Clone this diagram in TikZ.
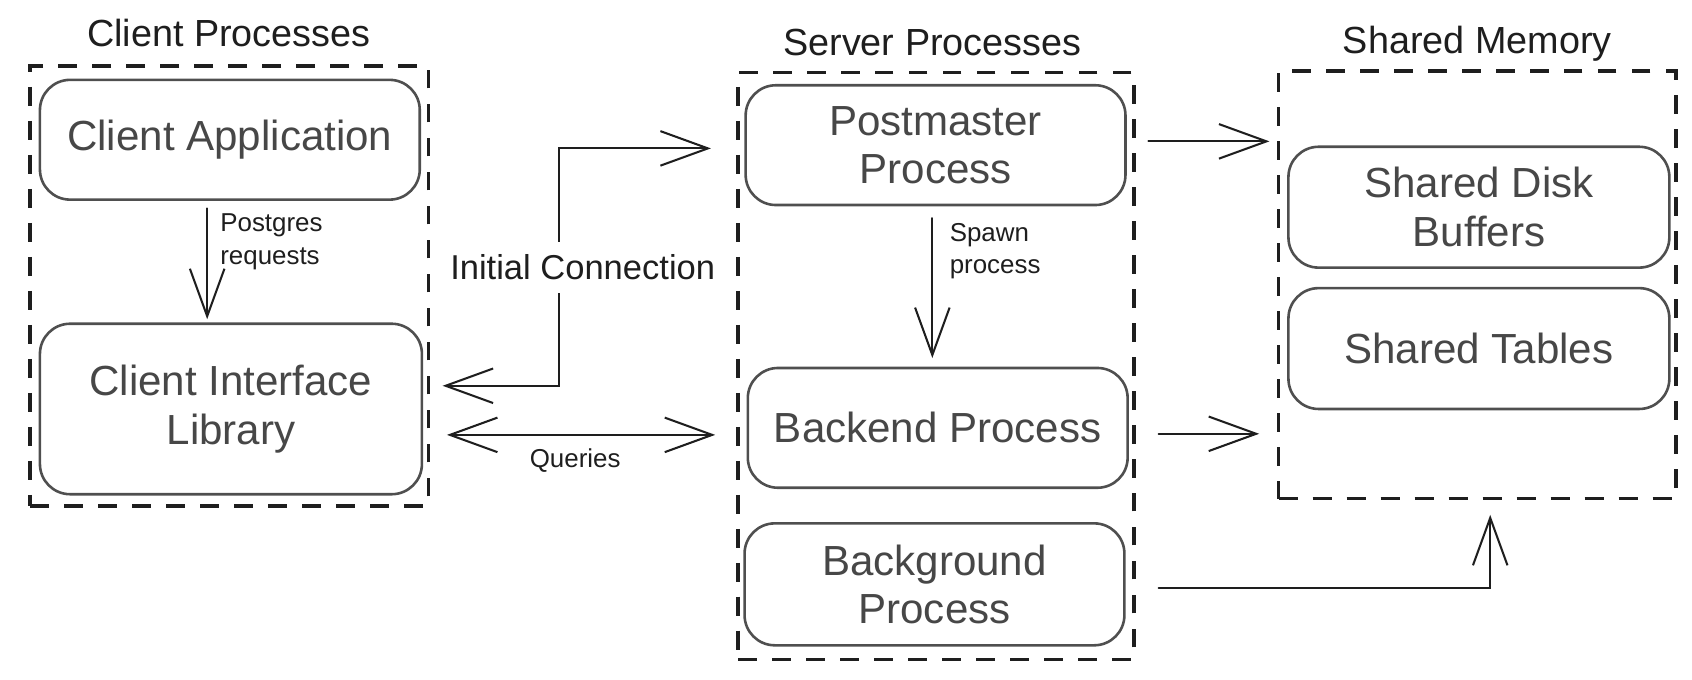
\documentclass[tikz,border=0pt]{standalone}
\RequirePackage{fontspec}
\setmainfont{Liberation Sans}
\RequirePackage{tikz}
\usetikzlibrary{calc}
\usetikzlibrary{arrows.meta}

\definecolor{inkblack}{HTML}{1E1E1E}
\definecolor{boxgray}{HTML}{4F4F4F}
\definecolor{textgray}{HTML}{474747}

\begin{document}
\begin{tikzpicture}[x=1pt,y=-1pt,
    proc/.style={draw=boxgray,line width=2.4pt,rounded corners=28pt,minimum width=352pt,minimum height=111pt,
                 align=center,text=textgray,inner sep=0pt,font=\fontsize{39}{45}\selectfont},
    group/.style={draw=inkblack,line width=3.2pt,dash pattern=on 17.5pt off 14pt,inner sep=0pt},
    title/.style={anchor=base,text=inkblack,font=\fontsize{35}{40}\selectfont},
    note/.style={text=inkblack,align=left,inner sep=0pt,font=\fontsize{24}{30}\selectfont},
    barb/.tip={Straight Barb[length=44pt,width=32pt]},
    conn/.style={draw=inkblack,line width=1.9pt,line cap=round,-barb},
    conn2/.style={conn,barb-barb}]
                    \useasboundingbox (0,0) rectangle (1568,630);

                    \node[title] (ctitle) at (212,43.5) {Client Processes};
                    \node[title] (stitle) at (864,51) {Server Processes};
                    \node[title] (mtitle) at (1369,49.5) {Shared Memory};

                    \node[group,minimum width=369pt,minimum height=408pt] (cgrp) at (212.5,265) {};
                    \node[group,minimum width=367pt,minimum height=544pt] (sgrp) at (867.5,339) {};
                    \node[group,minimum width=368pt,minimum height=396pt] (shm) at (1369,264) {};

                    \node[proc] (ca) at (213,129.5) {Client Application};
                    \node[proc,minimum width=354pt,minimum height=158pt] (cil) at (214,379) {Client Interface\\Library};

                    \node[proc] (pm) at (867,134.5) {Postmaster\\Process};
                    \node[proc] (be) at (869,396.5) {Backend Process};
                    \node[proc,minimum height=113pt] (bg) at (866,541.5) {Background\\Process};

                    \node[proc,minimum width=353pt,minimum height=112pt] (sdb) at (1370.5,192) {Shared Disk\\Buffers};
                    \node[proc,minimum width=353pt,minimum height=112pt] (stb) at (1370.5,323) {Shared Tables};

                    \coordinate (ic) at ([yshift=21.5pt]cil.east);
                    \coordinate (qa) at ([yshift=-24pt]cil.east);
                    \coordinate (pmo) at ([yshift=3.5pt]pm.east);
                    \coordinate (beo) at ([yshift=-5.5pt]be.east);
                    \coordinate (bgo) at ([yshift=-3pt]bg.east);
                    \coordinate (shin) at ([xshift=12pt]shm.south);

                    \draw[conn,shorten <=7pt,shorten >=3pt] ([xshift=-21pt]ca.south) -- ([xshift=-22pt]cil.north);
                    \node[note,anchor=west] (pgl) at (204,224) {Postgres\\requests};

                    \draw[conn2,shorten <=18pt,shorten >=31pt] (ic) -- ++(126,0) |- ([yshift=-3pt]pm.west);
                    \node[fill=white,text=inkblack,inner xsep=2pt,inner ysep=12pt,font=\fontsize{32}{38}\selectfont] (icl) at (540,248) {Initial Connection};

                    \draw[conn2,shorten <=22pt,shorten >=29pt] (qa) -- (qa -| be.west);
                    \node[note] (ql) at (533,427) {Queries};

                    \draw[conn,shorten <=11pt,shorten >=8pt] ([xshift=-3pt]pm.south) -- ([xshift=-5pt]be.north);
                    \node[note,anchor=west] (spl) at (880,233) {Spawn\\process};

                    \draw[conn,shorten <=20pt,shorten >=7pt] (pmo) -- (pmo -| shm.west);
                    \draw[conn,shorten <=27.5pt,shorten >=16.5pt] (beo) -- (beo -| shm.west);
                    \draw[conn,shorten <=30.5pt,shorten >=13.5pt] (bgo) -| (shin);
                \end{tikzpicture}
\end{document}
